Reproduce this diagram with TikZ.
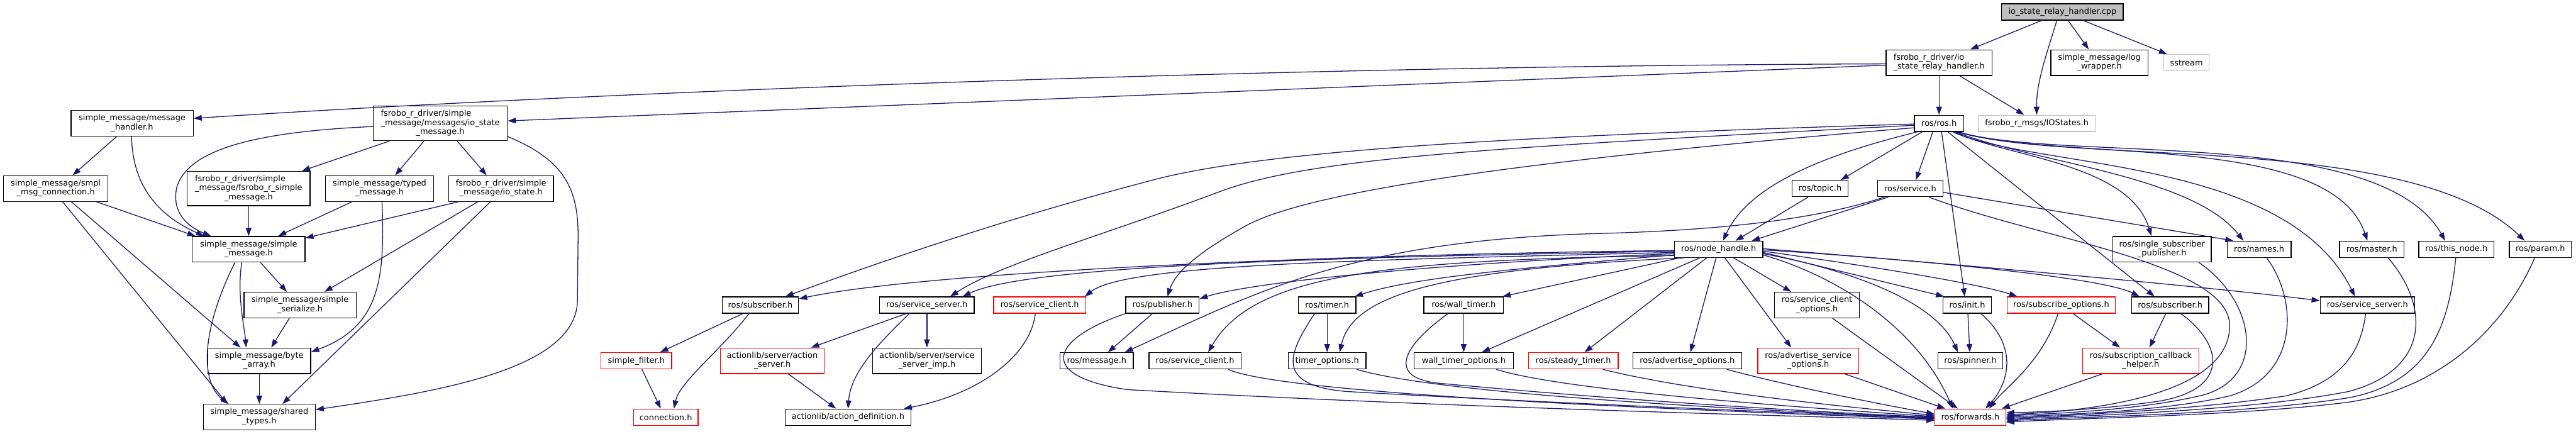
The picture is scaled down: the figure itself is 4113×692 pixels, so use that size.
\documentclass[tikz,border=0pt]{standalone}
\usepackage{fontspec}
\setmainfont{DejaVu Sans}
\usetikzlibrary{arrows.meta}
\definecolor{edgec}{HTML}{191970}
\definecolor{gbord}{HTML}{BFBFBF}
\newcommand{\lc}[1]{\multicolumn{1}{@{}c@{}}{#1}}
\newcommand{\tb}[1]{\begin{tabular}{@{}l@{}}#1\end{tabular}}
\tikzset{
  nd/.style={draw=black, fill=white, line width=1.3pt, inner sep=0pt, font=\fontsize{13}{14.5}\selectfont, minimum height=26pt},
  rd/.style={nd, draw=red},
  gd/.style={nd, draw=gbord},
  e/.style={draw=edgec, line width=1.3pt, -{Triangle[length=13pt,width=9pt]}},
}
\begin{document}
\begin{tikzpicture}[x=1pt,y=-1pt]
\useasboundingbox (0,0) rectangle (4113,692);
% ---------- nodes ----------
\node[nd, fill=gbord, minimum width=194pt] (cpp) at (3293,19) {io\_state\_relay\_handler.cpp};
\node[nd, minimum width=169pt, minimum height=41pt] (relayh) at (3096,100) {\tb{fsrobo\_r\_driver/io\\\lc{\_state\_relay\_handler.h}}};
\node[nd, minimum width=155pt, minimum height=41pt] (logw) at (3352,100) {\tb{simple\_message/log\\\lc{\_wrapper.h}}};
\node[gd, minimum width=72pt] (sstream) at (3491,100) {sstream};
\node[nd, minimum width=79pt] (rosh) at (3096,197) {ros/ros.h};
\node[gd, minimum width=187pt] (iostates) at (3252,197) {fsrobo\_r\_msgs/IOStates.h};
\node[nd, minimum width=195pt, minimum height=41pt] (msghandler) at (211,197) {\tb{simple\_message/message\\\lc{\_handler.h}}};
\node[nd, minimum width=214pt, minimum height=55pt] (iostatemsg) at (703,197) {\tb{fsrobo\_r\_driver/simple\\\_message/messages/io\_state\\\lc{\_message.h}}};
\node[nd, minimum width=167pt, minimum height=41pt] (smplconn) at (89,301) {\tb{simple\_message/smpl\\\lc{\_msg\_connection.h}}};
\node[nd, minimum width=196pt, minimum height=55pt] (fsrsm) at (397,301) {\tb{fsrobo\_r\_driver/simple\\\_message/fsrobo\_r\_simple\\\lc{\_message.h}}};
\node[nd, minimum width=173pt, minimum height=41pt] (typed) at (606,301) {\tb{simple\_message/typed\\\lc{\_message.h}}};
\node[nd, minimum width=167pt, minimum height=41pt] (iostate) at (800,301) {\tb{fsrobo\_r\_driver/simple\\\lc{\_message/io\_state.h}}};
\node[nd, minimum width=90pt] (topic) at (2906,301) {ros/topic.h};
\node[nd, minimum width=104pt] (service) at (3050,301) {ros/service.h};
\node[nd, minimum width=180pt, minimum height=41pt] (simplemsg) at (397,398) {\tb{simple\_message/simple\\\lc{\_message.h}}};
\node[nd, minimum width=141pt] (nodeh) at (2744,398) {ros/node\_handle.h};
\node[nd, minimum width=157pt, minimum height=41pt] (ssp) at (3452,398) {\tb{ros/single\_subscriber\\\lc{\_publisher.h}}};
\node[nd, minimum width=102pt] (names) at (3607,398) {ros/names.h};
\node[nd, minimum width=103pt] (master) at (3787,398) {ros/master.h};
\node[nd, minimum width=120pt] (thisnode) at (3922,398) {ros/this\_node.h};
\node[nd, minimum width=99pt] (param) at (4056,398) {ros/param.h};
\node[nd, minimum width=179pt, minimum height=41pt] (serialize) at (479,487) {\tb{simple\_message/simple\\\lc{\_serialize.h}}};
\node[nd, minimum width=122pt] (sub1) at (1214,487) {ros/subscriber.h};
\node[nd, minimum width=151pt] (ss1) at (1480,487) {ros/service\_server.h};
\node[rd, minimum width=147pt] (sc1) at (1660,487) {ros/service\_client.h};
\node[nd, minimum width=117pt] (pub) at (1856,487) {ros/publisher.h};
\node[nd, minimum width=92pt] (timer) at (2119,487) {ros/timer.h};
\node[nd, minimum width=127pt] (walltimer) at (2337,487) {ros/wall\_timer.h};
\node[nd, minimum width=136pt, minimum height=41pt] (sco) at (2901,487) {\tb{ros/service\_client\\\lc{\_options.h}}};
\node[nd, minimum width=77pt] (init) at (3141,487) {ros/init.h};
\node[rd, minimum width=173pt] (subopt) at (3291,487) {ros/subscribe\_options.h};
\node[nd, minimum width=123pt] (sub2) at (3465,487) {ros/subscriber.h};
\node[nd, minimum width=151pt] (ss2) at (3780,487) {ros/service\_server.h};
\node[nd, minimum width=164pt, minimum height=41pt] (bytearr) at (414,576) {\tb{simple\_message/byte\\\lc{\_array.h}}};
\node[rd, minimum width=113pt] (sfilter) at (1016,576) {simple\_filter.h};
\node[rd, minimum width=166pt, minimum height=41pt] (aserver) at (1233,576) {\tb{actionlib/server/action\\\lc{\_server.h}}};
\node[nd, minimum width=174pt, minimum height=41pt] (ssimp) at (1480,576) {\tb{actionlib/server/service\\\lc{\_server\_imp.h}}};
\node[nd, minimum width=117pt] (message) at (1751,576) {ros/message.h};
\node[nd, minimum width=147pt] (sc2) at (1908,576) {ros/service\_client.h};
\node[nd, minimum width=124pt] (topts) at (2119,576) {timer\_options.h};
\node[nd, minimum width=159pt] (wtopts) at (2337,576) {wall\_timer\_options.h};
\node[rd, minimum width=143pt] (steady) at (2512,576) {ros/steady\_timer.h};
\node[nd, minimum width=174pt] (advopt) at (2694,576) {ros/advertise\_options.h};
\node[rd, minimum width=161pt, minimum height=41pt] (aso) at (2887,576) {\tb{ros/advertise\_service\\\lc{\_options.h}}};
\node[nd, minimum width=104pt] (spinner) at (3146,576) {ros/spinner.h};
\node[rd, minimum width=186pt, minimum height=41pt] (sch) at (3418,576) {\tb{ros/subscription\_callback\\\lc{\_helper.h}}};
\node[nd, minimum width=179pt, minimum height=41pt] (shared) at (414,666) {\tb{simple\_message/shared\\\lc{\_types.h}}};
\node[rd, minimum width=103pt] (connection) at (1063,666) {connection.h};
\node[nd, minimum width=201pt] (adef) at (1354,666) {actionlib/action\_definition.h};
\node[rd, minimum width=113pt] (forwards) at (3146,666) {ros/forwards.h};
% ---------- edges: top ----------
\draw[e] ([xshift=-33pt]cpp.south) -- ([xshift=50pt]relayh.north);
\draw[e] ([xshift=-9pt]cpp.south) .. controls (3270,80) and (3251,130) .. (iostates.north);
\draw[e] ([xshift=9pt]cpp.south) -- ([xshift=-17pt]logw.north);
\draw[e] ([xshift=33pt]cpp.south) -- ([xshift=-31pt]sstream.north);
\draw[e] (relayh.south) -- (rosh.north);
\draw[e] ([xshift=33pt]relayh.south) -- ([xshift=-20pt]iostates.north);
\draw[e] ([yshift=-2pt]relayh.west) .. controls (2000,105) and (900,150) .. ([yshift=8pt]msghandler.east);
\draw[e] ([yshift=-4pt]relayh.west) -- ([yshift=4pt]iostatemsg.east);
% ---------- simple_message side ----------
\draw[e] ([yshift=-5pt]iostatemsg.west) .. controls (420,210) and (300,235) .. (282,300) .. controls (274,340) and (300,362) .. ([xshift=-60pt]simplemsg.north);
\draw[e] ([xshift=-81pt]iostatemsg.south) -- ([xshift=85pt]fsrsm.north);
\draw[e] ([xshift=-26pt]iostatemsg.south) -- ([xshift=25pt]typed.north);
\draw[e] ([xshift=27pt]iostatemsg.south) -- ([xshift=-23pt]iostate.north);
\draw[e] ([yshift=-21pt]iostatemsg.east) .. controls (900,255) and (924,300) .. (923,380) -- (922,480) .. controls (920,590) and (700,625) .. ([yshift=12pt]shared.east);
\draw[e] ([xshift=-25pt]msghandler.south) -- ([xshift=27pt]smplconn.north);
\draw[e] ([xshift=-1pt]msghandler.south) .. controls (212,300) and (255,345) .. ([xshift=-71pt]simplemsg.north);
\draw[e] ([xshift=11pt]smplconn.south) -- ([xshift=-51pt]shared.north);
\draw[e] ([xshift=25pt]smplconn.south) -- ([xshift=-30pt]bytearr.north);
\draw[e] ([xshift=65pt]smplconn.south) -- ([xshift=-85pt]simplemsg.north);
\draw[e] (fsrsm.south) -- (simplemsg.north);
\draw[e] ([xshift=-44pt]typed.south) -- ([xshift=47pt]simplemsg.north);
\draw[e] ([xshift=4pt]typed.south) .. controls (614,440) and (610,520) .. ([yshift=14pt]bytearr.east);
\draw[e] ([xshift=-68pt]iostate.south) -- ([yshift=18pt]simplemsg.east);
\draw[e] ([xshift=-37pt]iostate.south) -- ([xshift=39pt]serialize.north);
\draw[e] ([xshift=-17pt]iostate.south) -- ([xshift=37pt]shared.north);
\draw[e] ([xshift=19pt]simplemsg.south) -- ([xshift=-21pt]serialize.north);
\draw[e] ([xshift=-11pt]simplemsg.south) .. controls (378,470) and (390,520) .. ([xshift=-21pt]bytearr.north);
\draw[e] ([xshift=-22pt]simplemsg.south) .. controls (320,530) and (320,610) .. ([xshift=-49pt]shared.north);
\draw[e] ([xshift=-17pt]serialize.south) -- ([xshift=19pt]bytearr.north);
\draw[e] (bytearr.south) -- (shared.north);
% ---------- ros.h ----------
\draw[e] ([xshift=-10pt]rosh.south) -- ([xshift=9pt]service.north);
\draw[e] ([xshift=-27pt]rosh.south) -- ([xshift=33pt]topic.north);
\draw[e] ([xshift=-35pt]rosh.south) .. controls (2900,250) and (2790,300) .. ([xshift=7pt]nodeh.north);
\draw[e] ([xshift=4pt]rosh.south) -- ([xshift=-4pt]init.north);
\draw[e] ([xshift=14pt]rosh.south) -- ([xshift=-25pt]sub2.north);
\draw[e] ([xshift=24pt]rosh.south) .. controls (3200,250) and (3400,260) .. ([xshift=-17pt]ssp.north);
\draw[e] ([xshift=26pt]rosh.south) .. controls (3250,260) and (3500,280) .. ([xshift=-25pt]names.north);
\draw[e] ([xshift=28pt]rosh.south) .. controls (3300,260) and (3720,210) .. ([xshift=-7pt]master.north);
\draw[e] ([xshift=30pt]rosh.south) .. controls (3300,260) and (3800,200) .. ([xshift=-18pt]thisnode.north);
\draw[e] ([xshift=32pt]rosh.south) .. controls (3300,265) and (3850,210) .. ([xshift=-25pt]param.north);
\draw[e] ([xshift=22pt]rosh.south) .. controls (3250,270) and (3650,250) .. ([xshift=-20pt]ss2.north);
\draw[e] ([yshift=-1pt]rosh.west) .. controls (2500,215) and (2050,235) .. (1850,285) .. controls (1600,350) and (1400,420) .. ([xshift=40pt]sub1.north);
\draw[e] ([yshift=-3pt]rosh.west) .. controls (2400,235) and (2100,250) .. (1950,305) .. controls (1750,380) and (1600,420) .. ([xshift=37pt]ss1.north);
\draw[e] ([yshift=-7pt]rosh.west) .. controls (2500,250) and (2100,300) .. (1990,360) .. controls (1900,410) and (1875,440) .. ([xshift=8pt]pub.north);
% ---------- topic / service ----------
\draw[e] ([xshift=-19pt]topic.south) -- ([xshift=27pt]nodeh.north);
\draw[e] ([xshift=-35pt]service.south) -- ([xshift=53pt]nodeh.north);
\draw[e] ([xshift=-41pt]service.south) .. controls (2900,350) and (2750,368) .. (2544,373) .. controls (2150,385) and (2000,470) .. ([xshift=45pt]message.north);
\draw[e] ([yshift=-6pt]service.east) -- ([xshift=-41pt]names.north);
\draw[e] ([xshift=30pt]service.south) .. controls (3250,380) and (3560,420) .. (3560,520) .. controls (3560,640) and (3300,658) .. ([yshift=4pt]forwards.east);
% ---------- node_handle ----------
\draw[e] ([yshift=-2pt]nodeh.west) .. controls (2200,405) and (1500,430) .. ([yshift=10pt]sub1.east);
\draw[e] ([yshift=-3pt]nodeh.west) .. controls (2200,410) and (1650,420) .. ([xshift=57pt]ss1.north);
\draw[e] ([yshift=-5pt]nodeh.west) .. controls (2200,415) and (1800,420) .. ([xshift=72pt]sc1.north);
\draw[e] ([yshift=-7pt]nodeh.west) .. controls (2300,420) and (2000,450) .. ([yshift=10pt]pub.east);
\draw[e] ([yshift=-9pt]nodeh.west) .. controls (2400,430) and (2250,445) .. ([xshift=44pt]timer.north);
\draw[e] ([yshift=-10pt]nodeh.west) .. controls (2200,415) and (2000,440) .. ([xshift=21pt]sc2.north);
\draw[e] ([xshift=-55pt]nodeh.south) .. controls (2300,430) and (2160,470) .. ([xshift=20pt]topts.north);
\draw[e] ([xshift=-62pt]nodeh.south) -- ([xshift=62pt]walltimer.north);
\draw[e] ([xshift=-30pt]nodeh.south) -- ([xshift=29pt]wtopts.north);
\draw[e] ([xshift=-19pt]nodeh.south) -- ([xshift=18pt]steady.north);
\draw[e] ([xshift=-4pt]nodeh.south) -- ([xshift=5pt]advopt.north);
\draw[e] ([xshift=10pt]nodeh.south) -- ([xshift=-27pt]aso.north);
\draw[e] ([xshift=24pt]nodeh.south) -- ([xshift=-41pt]sco.north);
\draw[e] ([yshift=-5pt]nodeh.east) -- ([xshift=-37pt]init.north);
\draw[e] ([yshift=-3pt]nodeh.east) .. controls (2950,420) and (3150,450) .. ([xshift=-70pt]subopt.north);
\draw[e] ([yshift=-1pt]nodeh.east) .. controls (3000,410) and (3350,440) .. ([xshift=-49pt]sub2.north);
\draw[e] ([yshift=1pt]nodeh.east) .. controls (3100,420) and (3500,455) .. ([yshift=7pt]ss2.west);
\draw[e] ([yshift=-7pt]nodeh.east) .. controls (2950,430) and (3090,480) .. ([xshift=-20pt]spinner.north);
\draw[e] ([yshift=-9pt]nodeh.east) .. controls (2930,440) and (3060,520) .. ([xshift=-28pt]forwards.north);
% ---------- lower left ros ----------
\draw[e] ([xshift=-28pt]sub1.south) -- ([xshift=38pt]sfilter.north);
\draw[e] ([xshift=-18pt]sub1.south) .. controls (1150,560) and (1085,610) .. ([xshift=13pt]connection.north);
\draw[e] ([xshift=9pt]sfilter.south) -- ([xshift=-8pt]connection.north);
\draw[e] ([xshift=-33pt]ss1.south) -- ([xshift=62pt]aserver.north);
\draw[e] (ss1.south) -- (ssimp.north);
\draw[e] ([xshift=-28pt]ss1.south) .. controls (1390,560) and (1358,600) .. (adef.north);
\draw[e] ([xshift=26pt]aserver.south) -- ([xshift=-19pt]adef.north);
\draw[e] ([xshift=-7pt]sc1.south) .. controls (1645,570) and (1560,630) .. ([xshift=89pt]adef.north);
\draw[e] ([xshift=-16pt]pub.south) -- ([xshift=18pt]message.north);
\draw[e] ([xshift=-59pt]pub.south) .. controls (1680,540) and (1650,600) .. (1800,622) .. controls (2300,650) and (2800,662) .. ([yshift=-5pt]forwards.west);
\draw[e] (timer.south) -- (topts.north);
\draw[e] ([xshift=-20pt]timer.south) .. controls (2060,560) and (2030,615) .. (2150,625) .. controls (2500,645) and (2900,660) .. ([yshift=-2pt]forwards.west);
\draw[e] (walltimer.south) -- (wtopts.north);
\draw[e] ([xshift=-25pt]walltimer.south) .. controls (2230,560) and (2220,605) .. (2300,612) .. controls (2600,640) and (2900,658) .. (forwards.west);
\draw[e] ([xshift=53pt]sc2.south) .. controls (2050,630) and (2700,655) .. ([yshift=-3pt]forwards.west);
\draw[e] ([xshift=47pt]topts.south) .. controls (2300,630) and (2800,655) .. ([yshift=-1pt]forwards.west);
\draw[e] ([xshift=52pt]wtopts.south) .. controls (2500,625) and (2900,652) .. ([yshift=1pt]forwards.west);
\draw[e] ([xshift=47pt]steady.south) .. controls (2700,625) and (2950,650) .. ([yshift=3pt]forwards.west);
\draw[e] ([xshift=63pt]advopt.south) .. controls (2850,615) and (3000,645) .. ([yshift=5pt]forwards.west);
\draw[e] ([xshift=59pt]aso.south) -- ([xshift=-40pt]forwards.north);
\draw[e] ([xshift=25pt]sco.south) -- ([xshift=-20pt]forwards.north);
% ---------- lower right ros ----------
\draw[e] ([xshift=1pt]init.south) -- ([xshift=-1pt]spinner.north);
\draw[e] ([xshift=22pt]init.south) .. controls (3230,560) and (3200,620) .. ([xshift=24pt]forwards.north);
\draw[e] ([xshift=-5pt]subopt.south) .. controls (3260,580) and (3200,620) .. ([xshift=30pt]forwards.north);
\draw[e] ([xshift=19pt]subopt.south) -- ([xshift=-33pt]sch.north);
\draw[e] ([xshift=-7pt]sub2.south) -- ([xshift=14pt]sch.north);
\draw[e] ([xshift=17pt]sub2.south) .. controls (3550,550) and (3560,620) .. (3450,640) .. controls (3350,655) and (3250,658) .. ([yshift=7pt]forwards.east);
\draw[e] ([xshift=-62pt]sch.south) -- ([xshift=50pt]forwards.north);
\draw[e] ([xshift=59pt]ssp.south) .. controls (3600,480) and (3620,600) .. (3520,630) .. controls (3420,655) and (3280,660) .. ([yshift=2pt]forwards.east);
\draw[e] ([xshift=12pt]names.south) .. controls (3670,480) and (3670,600) .. (3560,632) .. controls (3450,658) and (3280,662) .. (forwards.east);
\draw[e] ([xshift=-3pt]ss2.south) .. controls (3770,560) and (3740,610) .. (3650,632) .. controls (3500,655) and (3300,663) .. ([yshift=-2pt]forwards.east);
\draw[e] ([xshift=26pt]master.south) .. controls (3880,490) and (3880,590) .. (3750,625) .. controls (3580,658) and (3300,664) .. ([yshift=-4pt]forwards.east);
\draw[e] ([xshift=-1pt]thisnode.south) .. controls (3910,520) and (3880,610) .. (3750,635) .. controls (3580,662) and (3300,666) .. ([yshift=-6pt]forwards.east);
\draw[e] ([xshift=-9pt]param.south) .. controls (4000,520) and (3900,620) .. (3750,642) .. controls (3580,664) and (3300,668) .. ([yshift=-8pt]forwards.east);
\end{tikzpicture}
\end{document}
